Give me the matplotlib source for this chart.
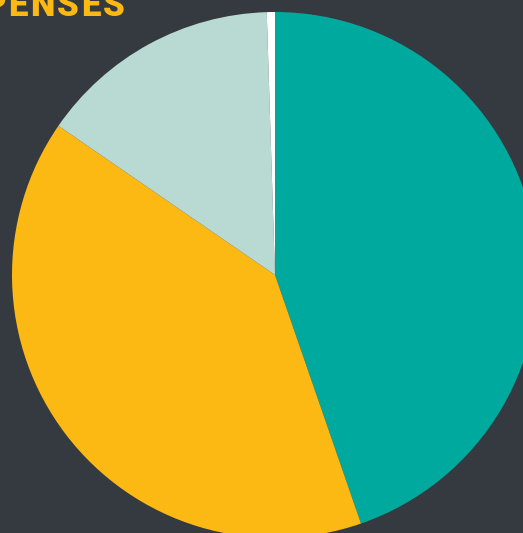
import matplotlib.pyplot as plt

# expense shares, clockwise from the top
labels = ['A', 'B', 'C', 'D']
values = [44.7, 39.9, 14.9, 0.5]
colors = ['#00a99d', '#fdb913', '#b9d9d3', '#ffffff']
title = 'EXPENSES'

bg = '#343a40'

fig = plt.figure(figsize=(5.23, 5.33), dpi=100, facecolor=bg)

# pie centre at (275, 275) px from top-left, radius 263 px
W, H = 523, 533
cx, cy, r = 275, 275, 263
ax = fig.add_axes([(cx - r) / W, (H - cy - r) / H, 2 * r / W, 2 * r / H])
ax.set_facecolor(bg)
ax.pie(values, colors=colors, startangle=90, counterclock=False,
       radius=1, wedgeprops=dict(linewidth=0))
ax.set_xlim(-1, 1)
ax.set_ylim(-1, 1)
ax.axis('off')

# spaced-out title, laid out letter by letter from the right end
renderer = fig.canvas.get_renderer()
x = 125.0
spacing = 2.5
for ch in reversed(title):
    t = fig.text(x / W, 1 - 15.5 / H, ch, color='#fdb913', fontsize=25,
                 fontweight='black', ha='right', va='baseline', family='Roboto')
    w = t.get_window_extent(renderer).width
    x -= w + spacing

fig.savefig('out.png', dpi=100, facecolor=bg)
